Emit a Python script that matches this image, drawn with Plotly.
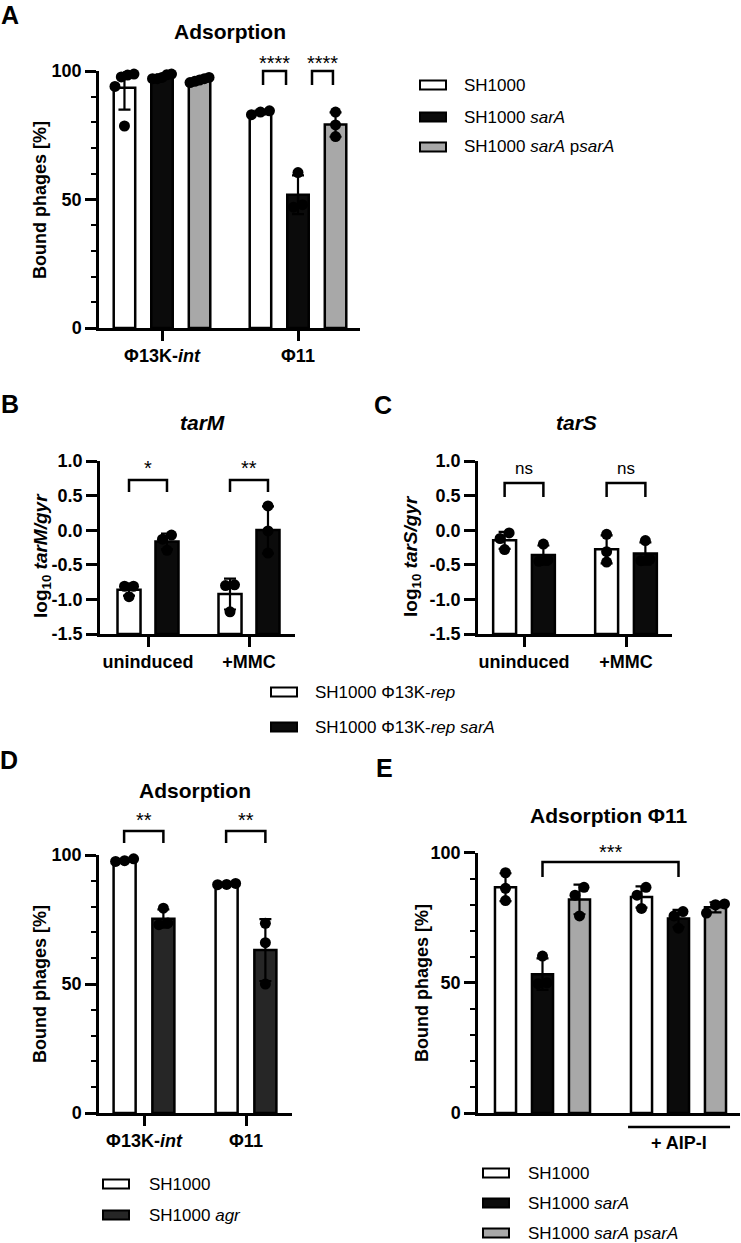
import numpy as np
import plotly.graph_objects as go

W, H = 741, 1243
FONT = "Liberation Sans, Arial, Helvetica, sans-serif"

# ---------------- data ----------------
# Panel A : Adsorption (bound phages, %)
A_GROUPS = ["Φ13K-<i>int</i>", "Φ11"]
A_STRAINS = ["SH1000", "SH1000 <i>sarA</i>", "SH1000 <i>sarA</i> p<i>sarA</i>"]
A_SH1000 = [[98.4, 98.8, 97.7, 94.0, 78.6], [83.0, 84.5, 84.0]]
A_SARA = [[98.8, 97.0, 97.5, 98.5, 97.0], [60.5, 47.0, 48.0]]
A_PSARA = [[97.0, 96.5, 96.0, 97.5, 95.5], [84.0, 79.0, 74.5]]
A_SIG = ["****", "****"]

# Panels B / C : log10 expression
BC_GROUPS = ["uninduced", "+MMC"]
BC_STRAINS = ["SH1000 Φ13K-<i>rep</i>", "SH1000 Φ13K-<i>rep sarA</i>"]
B_REP = [[-0.81, -0.81, -0.96], [-0.79, -0.80, -1.18]]
B_REP_SARA = [[-0.07, -0.13, -0.29], [0.35, -0.01, -0.33]]
B_SIG = ["*", "**"]
C_REP = [[-0.04, -0.12, -0.28], [-0.06, -0.31, -0.46]]
C_REP_SARA = [[-0.20, -0.43, -0.45], [-0.15, -0.42, -0.44]]
C_SIG = ["ns", "ns"]
BC_YTICKS = [-1.5, -1.0, -0.5, 0.0, 0.5, 1.0]
BC_YTICKTEXT = ["-1.5", "-1.0", "-0.5", "0.0", "0.5", "1.0"]

# Panel D : Adsorption agr
D_GROUPS = ["Φ13K-<i>int</i>", "Φ11"]
D_STRAINS = ["SH1000", "SH1000 <i>agr</i>"]
D_SH1000 = [[97.5, 98.5, 97.8], [88.5, 89.0, 88.6]]
D_AGR = [[79.4, 73.6, 73.0], [73.5, 66.0, 50.0]]
D_SIG = ["**", "**"]

# Panel E : Adsorption Φ11 with / without AIP-I
E_GROUPS = ["", "+ AIP-I"]
E_STRAINS = ["SH1000", "SH1000 <i>sarA</i>", "SH1000 <i>sarA</i> p<i>sarA</i>"]
E_SH1000 = [[92.3, 86.3, 81.6], [86.7, 83.7, 78.6]]
E_SARA = [[60.3, 50.0, 49.7], [77.4, 75.7, 71.0]]
E_PSARA = [[86.7, 83.7, 75.7], [80.0, 80.3, 76.8]]
E_SIG = "***"

PCT_YTICKS = [0, 50, 100]
PCT_YTICKTEXT = ["0", "50", "100"]
PCT_MINOR = list(range(0, 101, 10))

# ---------------- styles ----------------
WHITE, BLACK, GRAY, DARK = "#ffffff", "#0b0b0b", "#a8a8a8", "#262626"
LW = 2.5
TICK_FS = 18

fig = go.Figure()
shapes, annots = [], []


def PX(x):
    return x / W


def PY(y):
    return 1 - y / H


def spread(vals, ppu_y, ppu_x, step_px=9.0, max_span=19.0):
    vals = np.asarray(vals, float)
    order = np.argsort(vals)
    clusters = []
    for idx in order:
        if clusters and abs(vals[idx] - vals[clusters[-1][-1]]) * ppu_y < 10:
            clusters[-1].append(idx)
        else:
            clusters.append([idx])
    offs = np.zeros(len(vals))
    for cl in clusters:
        k = len(cl)
        if k == 1:
            continue
        st = min(step_px, max_span / (k - 1))
        for j, idx in enumerate(cl):
            offs[idx] = (j - (k - 1) / 2) * st / ppu_x
    return offs


def panel(ax, geom, series, colors, offsets, barw, base, yr, yticks, yticktext,
          minor, groups, show_xticks=True):
    xn = "x" if ax == 1 else f"x{ax}"
    yn = "y" if ax == 1 else f"y{ax}"
    left, right, c0, u, top, bottom = geom
    xr = [(left - c0) / u, (right - c0) / u]
    ppu_y = (bottom - top) / (yr[1] - yr[0])
    for s, (vals, col) in enumerate(zip(series, colors)):
        xs, means, sds, dx, dy = [], [], [], [], []
        for g, pts in enumerate(vals):
            pts = np.asarray(pts, float)
            xc = g + offsets[s]
            xs.append(xc)
            means.append(pts.mean())
            sds.append(pts.std(ddof=1))
            dx.extend(list(xc + spread(pts, ppu_y, u)))
            dy.extend(list(pts))
        means = np.array(means)
        fig.add_trace(go.Bar(x=xs, y=means - base, base=base, width=barw,
                             marker=dict(color=col, line=dict(color="black", width=LW)),
                             xaxis=xn, yaxis=yn, showlegend=False))
        fig.add_trace(go.Scatter(x=xs, y=means, mode="markers",
                                 marker=dict(size=2, color="rgba(0,0,0,0)"),
                                 error_y=dict(type="data", array=sds, color="black",
                                              thickness=2.2, width=6),
                                 xaxis=xn, yaxis=yn, cliponaxis=False, showlegend=False))
        fig.add_trace(go.Scatter(x=dx, y=dy, mode="markers",
                                 marker=dict(size=11, color="black"),
                                 xaxis=xn, yaxis=yn, cliponaxis=False, showlegend=False))
    xa = dict(domain=[PX(left), PX(right)], range=xr, anchor=yn, showline=True,
              linecolor="black", linewidth=LW, showgrid=False, zeroline=False,
              automargin=False,
              tickfont=dict(size=TICK_FS, weight="bold", color="black"))
    if show_xticks:
        xa.update(tickmode="array", tickvals=list(range(len(groups))), ticktext=groups,
                  ticks="outside", ticklen=10, tickwidth=LW, tickcolor="black")
    else:
        xa.update(showticklabels=False, ticks="")
    ya = dict(domain=[PY(bottom), PY(top)], range=yr, anchor=xn, showline=True,
              linecolor="black", linewidth=LW, showgrid=False, zeroline=False,
              automargin=False,
              tickmode="array", tickvals=yticks, ticktext=yticktext, ticks="outside",
              ticklen=11, tickwidth=LW, tickcolor="black",
              tickfont=dict(size=TICK_FS, weight="bold", color="black"))
    if minor:
        ya["minor"] = dict(tickmode="array", tickvals=minor, ticks="outside", ticklen=5,
                           tickwidth=2, tickcolor="black")
    key = "" if ax == 1 else str(ax)
    fig.update_layout(**{f"xaxis{key}": xa, f"yaxis{key}": ya})
    return xn, yn


def bracket(xn, x0, x1, ytop, ybot, label, ylab, size=20):
    # x in data units of the panel, y in page pixels
    shapes.append(dict(type="path", xref=xn, yref="paper",
                       path=f"M {x0},{PY(ybot)} L {x0},{PY(ytop)} L {x1},{PY(ytop)} L {x1},{PY(ybot)}",
                       line=dict(color="black", width=LW)))
    annots.append(dict(x=(x0 + x1) / 2, y=PY(ylab), xref=xn, yref="paper", text=label,
                       showarrow=False, font=dict(size=size, color="black"),
                       xanchor="center", yanchor="middle"))


def text(x, y, t, size, bold=False, angle=0, xanchor="center"):
    annots.append(dict(x=PX(x), y=PY(y), xref="paper", yref="paper",
                       text=f"<b>{t}</b>" if bold else t, showarrow=False,
                       textangle=angle, font=dict(size=size, color="black"),
                       xanchor=xanchor, yanchor="middle"))


def legend(x0, xt, rows, names, colors):
    for yy, nm, col in zip(rows, names, colors):
        shapes.append(dict(type="rect", xref="paper", yref="paper",
                           x0=PX(x0), x1=PX(x0 + 26), y0=PY(yy + 4.5), y1=PY(yy - 4.5),
                           fillcolor=col, line=dict(color="black", width=2)))
        text(xt, yy, nm, 17, xanchor="left")


# ---------------- Panel A ----------------
xa_, ya_ = panel(1, (99, 360, 162, 136, 71, 328), [A_SH1000, A_SARA, A_PSARA],
                 [WHITE, BLACK, GRAY], [-0.276, 0.0, 0.276], 0.158, 0, [0, 100],
                 PCT_YTICKS, PCT_YTICKTEXT, PCT_MINOR, A_GROUPS)
bracket(xa_, 1 - 0.257, 1 - 0.088, 71, 85, A_SIG[0], 63)
bracket(xa_, 1 + 0.103, 1 + 0.257, 71, 85, A_SIG[1], 63)
text(10, 15, "A", 25, bold=True)
text(230, 31, "Adsorption", 21, bold=True)
text(40, 200, "Bound phages [%]", 18, bold=True, angle=-90)
legend(420, 462, [85, 117, 147], A_STRAINS, [WHITE, BLACK, GRAY])

# ---------------- Panel B ----------------
xb_, yb_ = panel(2, (100, 295, 148, 101, 461, 634), [B_REP, B_REP_SARA],
                 [WHITE, BLACK], [-0.188, 0.188], 0.228, -1.5, [-1.5, 1.0],
                 BC_YTICKS, BC_YTICKTEXT, None, BC_GROUPS)
for g in range(2):
    bracket(xb_, g - 0.188, g + 0.188, 480, 492, B_SIG[g], 468)
text(10, 404, "B", 25, bold=True)
text(203, 423, "<i>tarM</i>", 21, bold=True)
text(42, 556, "log<sub>10</sub> <i>tarM/gyr</i>", 19, bold=True, angle=-90)

# ---------------- Panel C ----------------
xc_, yc_ = panel(3, (478, 672, 524, 102, 461, 634), [C_REP, C_REP_SARA],
                 [WHITE, BLACK], [-0.19, 0.19], 0.225, -1.5, [-1.5, 1.0],
                 BC_YTICKS, BC_YTICKTEXT, None, BC_GROUPS)
for g in range(2):
    bracket(xc_, g - 0.19, g + 0.19, 483, 497, C_SIG[g], 469, size=17)
text(383, 405, "C", 25, bold=True)
text(576, 423, "<i>tarS</i>", 21, bold=True)
text(412, 556, "log<sub>10</sub> <i>tarS/gyr</i>", 19, bold=True, angle=-90)

legend(271, 313, [692, 727], BC_STRAINS, [WHITE, BLACK])

# ---------------- Panel D ----------------
xd_, yd_ = panel(4, (99, 292, 144, 102, 855, 1113), [D_SH1000, D_AGR],
                 [WHITE, DARK], [-0.19, 0.19], 0.216, 0, [0, 100],
                 PCT_YTICKS, PCT_YTICKTEXT, PCT_MINOR, D_GROUPS)
for g in range(2):
    bracket(xd_, g - 0.195, g + 0.19, 831, 843, D_SIG[g], 820)
text(9, 760, "D", 25, bold=True)
text(195, 790, "Adsorption", 21, bold=True)
text(40, 984, "Bound phages [%]", 18, bold=True, angle=-90)
legend(103, 147, [1184, 1215], D_STRAINS, [WHITE, DARK])

# ---------------- Panel E ----------------
xe_, ye_ = panel(5, (478, 740, 542.5, 136, 852.7, 1113), [E_SH1000, E_SARA, E_PSARA],
                 [WHITE, BLACK, GRAY], [-0.272, 0.0, 0.272], 0.155, 0, [0, 100],
                 PCT_YTICKS, PCT_YTICKTEXT, PCT_MINOR, E_GROUPS, show_xticks=False)
bracket(xe_, 0.0, 1.0, 862, 877, E_SIG, 852)
shapes.append(dict(type="line", xref=xe_, yref="paper", x0=1 - 0.371, x1=1 + 0.379,
                   y0=PY(1127), y1=PY(1127), line=dict(color="black", width=LW)))
annots.append(dict(x=1.0, y=PY(1143), xref=xe_, yref="paper", text=f"<b>{E_GROUPS[1]}</b>",
                   showarrow=False, font=dict(size=TICK_FS, color="black"),
                   xanchor="center", yanchor="middle"))
text(384, 768, "E", 25, bold=True)
text(609, 815, "Adsorption Φ11", 21, bold=True)
text(422, 983, "Bound phages [%]", 18, bold=True, angle=-90)
legend(483, 526, [1173, 1203, 1233], E_STRAINS, [WHITE, BLACK, GRAY])

fig.update_layout(width=W, height=H,
                  margin=dict(l=0, r=0, t=0, b=0, pad=0, autoexpand=False),
                  paper_bgcolor="white", plot_bgcolor="rgba(0,0,0,0)",
                  font=dict(family=FONT, color="black"), barmode="overlay",
                  showlegend=False, shapes=shapes, annotations=annots)

fig.write_html("out.html",
               post_script="document.body.style.margin='0px';"
                           "document.body.style.padding='0px';")
